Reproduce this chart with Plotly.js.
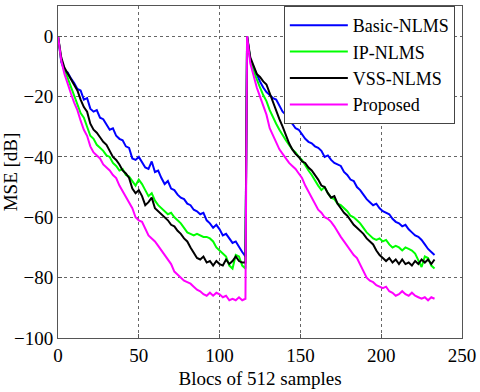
<!DOCTYPE html>
<html>
<head>
<meta charset="utf-8">
<script src="https://cdn.plot.ly/plotly-3.0.1.min.js"></script>
<style>
  body { margin: 0; background: #fff; }
  #myPlot { width: 480px; height: 392px; }
</style>
</head>
<body>
<div id="myPlot"></div>
<script>
// MSE [dB] per block, every 2 blocks.
// First run starts at block 0, second run (after echo path change) at block 117.
var basicRun1 = [0, -8.5, -11.5, -12, -14, -15.5, -17.5, -18, -21, -20.5, -24, -25, -24.5, -27, -27.5, -29.5, -31, -30.5, -33, -34,
  -34.5, -36.5, -37, -40.5, -41, -40, -42, -43.5, -44, -41.5, -45, -44.5, -47, -49, -48, -50.5, -51, -52.5, -53.5, -54,
  -55.5, -56, -57.5, -58, -59, -58.5, -61, -62, -63.5, -62.5, -64, -66, -65.5, -67, -68.5, -68, -70, -71.5, -73];
var basicRun2 = [0, -8, -10.5, -13, -15, -17, -18.5, -19.5, -20.5, -21, -23, -25, -26, -28, -29, -30.5, -31, -32.5, -34, -35,
  -35.5, -36.5, -37, -38, -40, -39.5, -41, -42, -42.5, -43, -45, -46, -47.5, -48, -50, -51, -52.5, -54, -55, -56,
  -55.5, -57, -58, -58.5, -59, -60.5, -61.5, -62, -63, -62.5, -64, -65, -66, -66.5, -67.5, -69, -70.5, -71.5, -72.5];

var ipRun1 = [0, -8, -11, -14, -17, -20, -23, -25.5, -27, -30, -33, -34, -36, -37, -38, -39.5, -40, -42, -43, -44.5,
  -44, -46, -46.5, -48, -49.5, -47.5, -49, -51, -53, -52, -54.5, -56, -57, -58, -59, -58.5, -60, -61, -62, -63.5,
  -65, -65.5, -66, -65.5, -66, -66.5, -66.5, -67, -68, -70, -71, -72, -73, -76, -77, -72.5, -73, -76, -77];
var ipRun2 = [0, -8, -11.5, -14.5, -17, -19.5, -21.5, -24.5, -27, -29, -31, -33, -34.5, -36, -37.5, -38.5, -40, -41, -43, -44.5,
  -46, -48, -49.5, -51, -50, -52, -53.5, -54, -55.5, -56, -57, -58, -59.5, -60, -61, -62, -63.5, -65, -66, -67,
  -67.5, -67, -68, -67.5, -69, -70, -69.5, -70, -71, -70, -70.5, -71, -72, -74, -76.5, -73, -73.5, -76, -77];

var vssRun1 = [0, -7, -10.5, -12.5, -14.5, -16, -18, -21, -23.5, -25, -29, -31, -32, -33.5, -35, -36, -38, -40, -41, -42.5,
  -44.5, -45.5, -47, -50.5, -52, -51, -53, -56, -55, -53.5, -57, -58, -59, -60, -61, -62.5, -63, -64.5, -65.5, -67,
  -68, -70, -72, -73.5, -74, -73, -75, -74.5, -76, -74.5, -75.5, -76, -74, -75.5, -74.5, -73, -74.5, -75, -75];
var vssRun2 = [0, -7, -10, -12.5, -13.5, -15, -16, -19, -22, -24.5, -27.5, -30, -33, -35.5, -37.5, -39, -40, -41.5, -42, -43.5,
  -44.5, -46, -47.5, -49.5, -50, -52, -53.5, -53, -55.5, -57, -58.5, -59.5, -61, -62.5, -63.5, -64.5, -65.5, -67, -68, -69,
  -71, -72.5, -73.5, -74.5, -73.5, -75, -74, -75.5, -74, -75.5, -75, -76, -74.5, -75.5, -74, -75, -74, -75.5, -74];

var propRun1 = [0, -8, -12.5, -16, -19, -22, -24.5, -28, -31, -33, -36.5, -38.5, -39.5, -40.5, -42.5, -43.5, -44.5, -46, -47, -49.5,
  -51.5, -53.5, -55, -57, -60, -61, -61.5, -64, -66, -67, -68, -69.5, -71, -72.5, -74, -75.5, -78, -79, -80, -81,
  -81.5, -82, -83, -84, -84.5, -85.5, -86, -85, -86, -85, -85.5, -86.5, -86, -87.5, -87, -87.5, -86.5, -87.5, -87];
var propRun2 = [0, -9, -13.5, -17, -20, -23, -26, -30.5, -33, -35.5, -37.5, -39, -40.5, -42, -43, -44, -45.5, -47, -49.5, -51.5,
  -53.5, -55, -57.5, -58.5, -60, -60.5, -61.5, -63, -65, -66.5, -68, -69.5, -71, -72.5, -73.5, -75.5, -77.5, -80, -81, -81.5,
  -82.5, -83, -83.5, -83, -84.5, -85, -86, -85.5, -84.5, -85.5, -86, -85, -86, -86.5, -87, -86.5, -87.5, -86.5, -87];

var runStart2 = 117;
var names = ["Basic-NLMS", "IP-NLMS", "VSS-NLMS", "Proposed"];
var colors = ["#0000ff", "#00ff00", "#000000", "#ff00ff"];
var runs = [[basicRun1, basicRun2], [ipRun1, ipRun2], [vssRun1, vssRun2], [propRun1, propRun2]];

function blocks(run, start) {
    return run.map((v, i) => start + 2 * i);
}

var data = [];
for (var k = 0; k < runs.length; k++) {
    var r1 = runs[k][0], r2 = runs[k][1];
    data.push({
        x: blocks(r1, 0).concat(blocks(r2, runStart2)),
        y: r1.concat(r2),
        mode: "lines",
        name: names[k],
        line: { color: colors[k], width: 2 }
    });
}

var axisFont = { family: "'Liberation Serif', 'Times New Roman', serif", size: 19, color: "#000" };
var legendFont = { family: "'Liberation Serif', 'Times New Roman', serif", size: 18, color: "#000" };

var layout = {
    width: 480,
    height: 392,
    margin: { l: 58, r: 18, t: 6, b: 54 },
    paper_bgcolor: "#fff",
    plot_bgcolor: "#fff",
    font: axisFont,
    showlegend: true,
    legend: {
        x: 0.559, y: 1, xanchor: "left", yanchor: "top",
        bgcolor: "#fff",
        bordercolor: "#444",
        borderwidth: 1,
        font: legendFont,
        itemwidth: 58,
        tracegroupgap: 0
    },
    xaxis: {
        range: [0, 250],
        tickvals: [0, 50, 100, 150, 200, 250],
        ticks: "inside",
        ticklen: 4,
        tickcolor: "#555",
        showline: true,
        mirror: true,
        linecolor: "#555",
        linewidth: 1,
        showgrid: true,
        gridcolor: "#666",
        griddash: "dot",
        gridwidth: 1,
        zeroline: false,
        tickfont: axisFont,
        title: { text: "Blocs of 512 samples", font: axisFont, standoff: 6 }
    },
    yaxis: {
        range: [-100, 10],
        tickvals: [-100, -80, -60, -40, -20, 0],
        ticks: "inside",
        ticklen: 4,
        tickcolor: "#555",
        showline: true,
        mirror: true,
        linecolor: "#555",
        linewidth: 1,
        showgrid: true,
        gridcolor: "#666",
        griddash: "dot",
        gridwidth: 1,
        zeroline: false,
        tickfont: axisFont,
        title: { text: "MSE [dB]", font: axisFont, standoff: 4 }
    }
};

Plotly.newPlot("myPlot", data, layout, { displayModeBar: false, staticPlot: true });
</script>
</body>
</html>
